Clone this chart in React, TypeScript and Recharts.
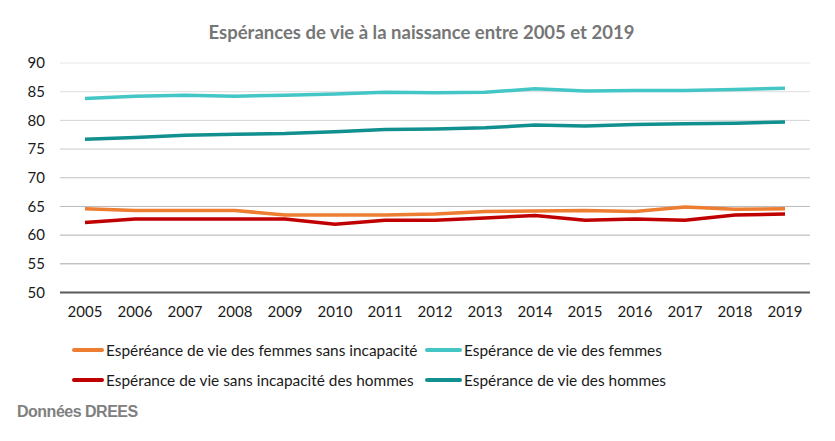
import React from 'react';
import { LineChart, Line, XAxis, YAxis, CartesianGrid, Legend } from 'recharts';

const years = ['2005','2006','2007','2008','2009','2010','2011','2012','2013','2014','2015','2016','2017','2018','2019'];
const femmesSansIncap = [64.6, 64.3, 64.3, 64.3, 63.5, 63.5, 63.5, 63.7, 64.1, 64.2, 64.3, 64.1, 64.9, 64.5, 64.6];
const femmes = [83.8, 84.2, 84.4, 84.2, 84.4, 84.6, 84.9, 84.8, 84.9, 85.5, 85.1, 85.2, 85.2, 85.4, 85.6];
const hommesSansIncap = [62.2, 62.8, 62.8, 62.8, 62.8, 61.9, 62.6, 62.6, 63.0, 63.4, 62.6, 62.8, 62.6, 63.5, 63.7];
const hommes = [76.7, 77.0, 77.4, 77.6, 77.7, 78.0, 78.4, 78.5, 78.7, 79.2, 79.0, 79.3, 79.4, 79.5, 79.7];
const yTicks = [50, 55, 60, 65, 70, 75, 80, 85, 90];

const seriesInfo = [
  { key: 'fsi', name: 'Espéréance de vie des femmes sans incapacité', color: '#ED7D31' },
  { key: 'f', name: 'Espérance de vie des femmes', color: '#45C6C6' },
  { key: 'hsi', name: 'Espérance de vie sans incapacité des hommes', color: '#C00000' },
  { key: 'h', name: 'Espérance de vie des hommes', color: '#129090' },
];

const data = years.map((y, i) => ({
  year: y,
  fsi: femmesSansIncap[i],
  f: femmes[i],
  hsi: hommesSansIncap[i],
  h: hommes[i],
}));

const FONT = 'Lato, "Open Sans", sans-serif';

const gridLine = (props: any) => {
  const { x1, x2, y1, y2 } = props;
  const frac = Math.max(0, Math.min(1, (y1 - 63) / (265 - 63)));
  const c = Math.round(0xe6 - frac * (0xe6 - 0xa6));
  const col = `rgb(${c},${c},${c})`;
  return <line key={`g-${y1}`} x1={x1} x2={x2} y1={y1} y2={y2} stroke={col} strokeWidth={1} />;
};

const LegendContent = () => {
  const pos = [
    { left: 72, top: 0, sw: 32 },
    { left: 425, top: 0, sw: 37 },
    { left: 72, top: 30, sw: 32 },
    { left: 425, top: 30, sw: 37 },
  ];
  return (
    <div style={{ position: 'relative', width: 835, height: 60, fontFamily: FONT, fontSize: 15.4, color: '#1a1a1a' }}>
      {seriesInfo.map((s, i) => (
        <div key={s.key} style={{ position: 'absolute', left: pos[i].left, top: pos[i].top, display: 'flex', alignItems: 'center', height: 20, whiteSpace: 'nowrap' }}>
          <div style={{ width: pos[i].sw, height: 4, background: s.color, borderRadius: 2, marginRight: 2 }} />
          <span>{s.name}</span>
        </div>
      ))}
    </div>
  );
};

export default function App() {
  return (
    <div style={{ position: 'absolute', left: 0, top: 0, width: 835, height: 441, background: '#fff' }}>
      <LineChart width={835} height={441} data={data} margin={{ top: 63, right: 25, bottom: 118.5, left: 0 }}>
        <CartesianGrid vertical={false} horizontal={gridLine} />
        <XAxis
          dataKey="year"
          height={30}
          padding={{ left: 25, right: 25 }}
          axisLine={{ stroke: '#5a5a5a', strokeWidth: 2 }}
          tickLine={false}
          tickSize={0}
          tickMargin={14}
          tick={{ fill: '#1a1a1a', fontSize: 15, fontFamily: FONT }}
          interval={0}
        />
        <YAxis
          domain={[50, 90]}
          ticks={yTicks}
          width={60}
          axisLine={false}
          tickLine={false}
          tickSize={0}
          tickMargin={15}
          tick={{ fill: '#1a1a1a', fontSize: 15, fontFamily: FONT }}
          interval={0}
        />
        <Legend
          layout="horizontal"
          verticalAlign="middle"
          align="center"
          wrapperStyle={{ position: 'absolute', top: 340, left: 0, width: 835 }}
          content={LegendContent}
        />
        {seriesInfo.map((s) => (
          <Line
            key={s.key}
            dataKey={s.key}
            name={s.name}
            stroke={s.color}
            strokeWidth={3.5}
            dot={false}
            activeDot={false}
            type="linear"
            isAnimationActive={false}
          />
        ))}
      </LineChart>
      <div style={{ position: 'absolute', left: 0, top: 21, width: 843, textAlign: 'center', fontFamily: FONT, fontWeight: 700, fontSize: 18.5, color: '#767676' }}>
        Espérances de vie à la naissance entre 2005 et 2019
      </div>
      <div style={{ position: 'absolute', left: 17, top: 403, fontFamily: '"Liberation Sans", Arial, sans-serif', fontWeight: 700, fontSize: 16, letterSpacing: -0.5, color: '#808080' }}>
        Données DREES
      </div>
    </div>
  );
}
